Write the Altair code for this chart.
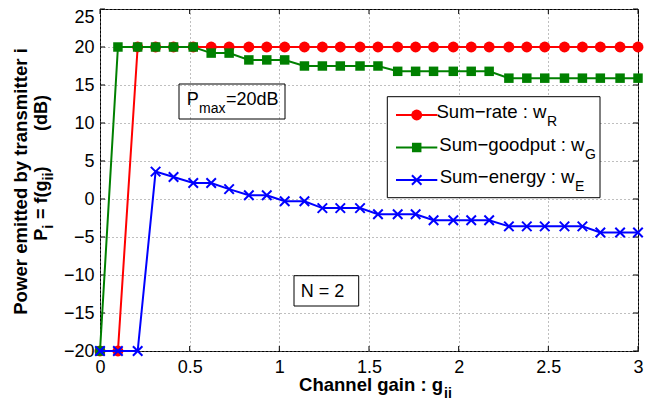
import altair as alt
import pandas as pd

# ---------------- data ----------------
gain = [0.00, 0.10, 0.21, 0.31, 0.41, 0.52, 0.62, 0.72, 0.83, 0.93,
        1.03, 1.14, 1.24, 1.34, 1.45, 1.55, 1.66, 1.76, 1.86, 1.97,
        2.07, 2.17, 2.28, 2.38, 2.48, 2.59, 2.69, 2.79, 2.90, 3.00]
sum_rate = [-20, -20, 20, 20, 20, 20, 20, 20, 20, 20,
            20, 20, 20, 20, 20, 20, 20, 20, 20, 20,
            20, 20, 20, 20, 20, 20, 20, 20, 20, 20]
sum_goodput = [-20, 20, 20, 20, 20, 20, 19.2, 19.2, 18.3, 18.3,
               18.3, 17.5, 17.5, 17.5, 17.5, 17.5, 16.8, 16.8, 16.8, 16.8,
               16.8, 16.8, 15.9, 15.9, 15.9, 15.9, 15.9, 15.9, 15.9, 15.9]
sum_energy = [-20, -20, -20, 3.6, 2.9, 2.1, 2.1, 1.3, 0.5, 0.5,
              -0.3, -0.3, -1.2, -1.2, -1.2, -2.0, -2.0, -2.0, -2.8, -2.8,
              -2.8, -2.8, -3.6, -3.6, -3.6, -3.6, -3.6, -4.4, -4.4, -4.4]
x_ticks = [0, 0.5, 1, 1.5, 2, 2.5, 3]
y_ticks = [-20, -15, -10, -5, 0, 5, 10, 15, 20, 25]
legend_labels = ["Sum\u2212rate : w", "Sum\u2212goodput : w", "Sum\u2212energy : w"]
legend_subs = ["R", "G", "E"]

FONT = "Liberation Sans"
W, H = 538, 342

xscale = alt.Scale(domain=[0, 3], nice=False, zero=False)
yscale = alt.Scale(domain=[-20, 25], nice=False, zero=False)
xaxis = alt.Axis(values=x_ticks, title=None, grid=True, gridDash=[1, 3], gridColor="#7f7f7f",
                 gridWidth=1, ticks=False, domain=False, labelFont=FONT, labelFontSize=18,
                 labelColor="black", labelPadding=7, labelFlush=False, format=".1~f")
yaxis = alt.Axis(values=y_ticks, title=None, grid=True, gridDash=[1, 3], gridColor="#7f7f7f",
                 gridWidth=1, ticks=False, domain=False, labelFont=FONT, labelFontSize=18,
                 labelColor="black", labelPadding=6, labelFlush=False, format="d",
                 labelBaseline={"condition": {"test": "datum.value == 25", "value": "top"}, "value": "middle"},
                 labelOffset={"condition": {"test": "datum.value == 25", "value": -1}, "value": 0})

X = alt.X("g:Q", scale=xscale, axis=xaxis)
Y = alt.Y("p:Q", scale=yscale, axis=yaxis)

one = pd.DataFrame({"k": [0]})
cross = "M-1,-1L1,1M-1,1L1,-1"


def text(txt, x, y, size=18, weight="normal", angle=0, align="left"):
    return alt.Chart(one).mark_text(text=txt, font=FONT, fontSize=size, fontWeight=weight,
                                    angle=angle, align=align, baseline="alphabetic",
                                    color="black").encode(x=alt.value(x), y=alt.value(y))


layers = []

# inward ticks on all four sides
xt = pd.DataFrame({"g": x_ticks})
yt = pd.DataFrame({"p": y_ticks})
for y0, y1 in [(H, H - 5), (0, 5)]:
    layers.append(alt.Chart(xt).mark_rule(color="black", strokeWidth=1).encode(
        x=X, y=alt.value(y0), y2=alt.value(y1)))
for x0, x1 in [(0, 5), (W, W - 5)]:
    layers.append(alt.Chart(yt).mark_rule(color="black", strokeWidth=1).encode(
        y=Y, x=alt.value(x0), x2=alt.value(x1)))

series = [
    (sum_rate, "#ff0000", dict(shape="circle", filled=True, size=120)),
    (sum_goodput, "#008000", dict(shape="square", filled=True, size=90)),
    (sum_energy, "#0000ff", dict(shape=cross, filled=False, size=90, strokeWidth=2)),
]
for vals, col, pt in series:
    df = pd.DataFrame({"g": gain, "p": vals})
    layers.append(alt.Chart(df).mark_line(color=col, strokeWidth=2).encode(x=X, y=Y))
    layers.append(alt.Chart(df).mark_point(color=col, opacity=1, **pt).encode(x=X, y=Y))

# annotation boxes
layers.append(alt.Chart(one).mark_rect(fill="white", fillOpacity=0, stroke="black", strokeWidth=1).encode(
    x=alt.value(79), x2=alt.value(185), y=alt.value(75), y2=alt.value(110)))
layers.append(text("P", 86.7, 96))
layers.append(text("max", 99, 104, size=14))
layers.append(text("=20dB", 126, 96))

layers.append(alt.Chart(one).mark_rect(fill="white", fillOpacity=0, stroke="black", strokeWidth=1).encode(
    x=alt.value(194), x2=alt.value(258.7), y=alt.value(266.7), y2=alt.value(297)))
layers.append(text("N = 2", 200.7, 287.7))

# legend
layers.append(alt.Chart(one).mark_rect(fill="white", stroke="black", strokeWidth=1).encode(
    x=alt.value(287.3), x2=alt.value(500), y=alt.value(87.7), y2=alt.value(188.7)))
rows = [106, 138.5, 171]
sub_x = [447, 485, 475]
for (vals, col, pt), row, lab, sub, sx in zip(series, rows, legend_labels, legend_subs, sub_x):
    layers.append(alt.Chart(one).mark_rule(color=col, strokeWidth=2).encode(
        x=alt.value(296), x2=alt.value(337.3), y=alt.value(row)))
    layers.append(alt.Chart(one).mark_point(color=col, opacity=1, **pt).encode(
        x=alt.value(316.7), y=alt.value(row)))
    layers.append(text(lab, sx - 0.5, row + 3, size=18.6, align="right"))
    layers.append(text(sub, sx, row + 11, size=14))

# axis titles
layers.append(text("Channel gain : g", 343, 382, size=18.5, weight="bold", align="right"))
layers.append(text("ii", 344, 388.5, size=14, weight="bold"))
layers.append(text("Power emitted by transmitter i", -73, 172.5, size=18.6, weight="bold",
                   angle=270, align="center"))
layers.append(text("P", -53, 231.7, weight="bold", angle=270))
layers.append(text("i", -47, 219.7, size=14, weight="bold", angle=270))
layers.append(text("= f(g", -53, 171.5, weight="bold", angle=270, align="right"))
layers.append(text("ii", -47, 171.5, size=14, weight="bold", angle=270))
layers.append(text(")", -53, 163.5, weight="bold", angle=270))
layers.append(text("(dB)", -53, 122, weight="bold", angle=270))

chart = alt.layer(*layers).properties(
    width=W, height=H,
    autosize=alt.AutoSizeParams(type="none"),
    padding={"left": 92, "top": 1, "right": 10, "bottom": 48},
    background="white",
).configure_view(stroke="black", strokeWidth=1)

chart.save("out.html", embed_options={"renderer": "svg", "actions": False})
